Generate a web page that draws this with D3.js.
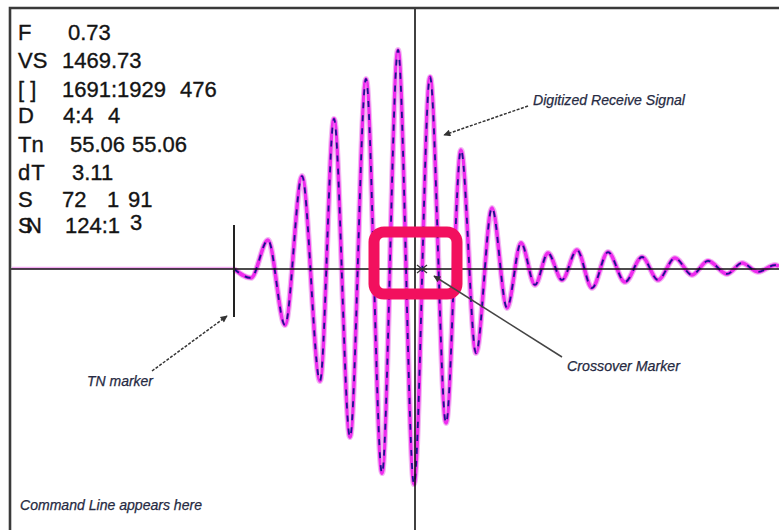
<!DOCTYPE html>
<html>
<head>
<meta charset="utf-8">
<script src="https://cdn.jsdelivr.net/npm/d3@7/dist/d3.min.js"></script>
<style>
  html, body { margin: 0; padding: 0; background: #fff; }
  svg { display: block; }
  .readout { font-family: "Liberation Sans", Arial, sans-serif; font-size: 22px; fill: #141414; stroke: #141414; stroke-width: 0.35px; }
  .note { font-family: "Liberation Sans", Arial, sans-serif; font-size: 14px; font-style: italic; fill: #262a42; stroke: #262a42; stroke-width: 0.25px; }
</style>
</head>
<body>
<svg id="chart" width="779" height="530"></svg>
<script>
// Receive waveform: sample index vs. amplitude (% of full scale), read at turning points
const sampleIndex = [2, 224, 241, 258, 275, 292, 310, 324, 340, 356, 372, 388, 404, 420, 436, 451,
  466, 482, 497, 511, 525, 538, 552, 567, 582, 598, 615, 632, 648, 665, 682, 698, 717, 732, 748, 765, 769];
const amplitude = [0, 0, -3.4, 11.1, -21.5, 35.6, -42.9, 57.5, -64.4, 72.8, -78.2, 83.9, -82.4, 73.6, -59.0, 45.6,
  -32.2, 23.4, -14.9, 10.0, -6.1, 6.1, -4.2, 7.3, -7.3, 6.5, -5.0, 4.6, -4.2, 4.2, -2.3, 3.1, -1.9, 2.3, -1.1, 1.5, 1.1];

// Markers (sample index)
const tnSample = 224;
const cursorSample = 405;
const crossoverSample = 412;

// Readout panel
const readoutLabels = ["F", "VS", "[ ]", "D", "Tn", "dT", "S", "SN"];
const readoutValues = [
  ["0.73"],
  ["1469.73"],
  ["1691:1929", "476"],
  ["4:4", "4"],
  ["55.06", "55.06"],
  ["3.11"],
  ["72", "1", "91"],
  ["124:1", "3"]
];

// Callout texts
const calloutTexts = ["Digitized Receive Signal", "Crossover Marker", "TN marker", "Command Line appears here"];

const svg = d3.select("#chart");
const W = 779, H = 530;
const frameLeft = 10, frameTop = 8;

const x = d3.scaleLinear().domain([0, 769]).range([frameLeft, W]);
const y = d3.scaleLinear().domain([-100, 100]).range([H, frameTop]);

const pts = sampleIndex.map((s, i) => [s, amplitude[i]]);
const preTrigger = pts.filter(d => d[0] <= tnSample);
const signal = pts.filter(d => d[0] >= tnSample);
const line = d3.line().x(d => x(d[0])).y(d => y(d[1])).curve(d3.curveMonotoneX);

// Arrowhead
const defs = svg.append("defs");
defs.append("marker")
  .attr("id", "arrow").attr("viewBox", "0 0 10 10")
  .attr("refX", 9).attr("refY", 5)
  .attr("markerWidth", 9).attr("markerHeight", 7)
  .attr("markerUnits", "userSpaceOnUse")
  .attr("orient", "auto")
  .append("path").attr("d", "M0,0 L10,5 L0,10 Z").attr("fill", "#333");

// Pre-trigger trace: faint
svg.append("path").datum(preTrigger).attr("d", line)
  .attr("fill", "none").attr("stroke", "#ee7aee").attr("stroke-width", 2.6)
  .attr("stroke-opacity", 0.6).attr("transform", "translate(0,-1)");

// Received signal: pale halo, magenta trace, dashed navy trace
const wave = svg.append("g");
wave.append("path").datum(signal).attr("d", line)
  .attr("fill", "none").attr("stroke", "#f2b8f2").attr("stroke-width", 6);
wave.append("path").datum(signal).attr("d", line)
  .attr("fill", "none").attr("stroke", "#ee2cee").attr("stroke-width", 3.6);
wave.append("path").datum(signal).attr("d", line)
  .attr("fill", "none").attr("stroke", "#1c128e").attr("stroke-width", 1.8)
  .attr("stroke-dasharray", "6 7");

// Zero line and cursor line
svg.append("line")
  .attr("x1", frameLeft).attr("x2", W).attr("y1", y(0)).attr("y2", y(0))
  .attr("stroke", "#111").attr("stroke-width", 1.6);
svg.append("line")
  .attr("x1", x(cursorSample)).attr("x2", x(cursorSample)).attr("y1", frameTop).attr("y2", H)
  .attr("stroke", "#111").attr("stroke-width", 1.6);

// TN marker
svg.append("line")
  .attr("x1", x(tnSample)).attr("x2", x(tnSample))
  .attr("y1", y(0) - 44).attr("y2", y(0) + 48)
  .attr("stroke", "#222").attr("stroke-width", 2);

// Crossover marker (asterisk)
const cx = x(crossoverSample), cy = y(0);
const star = svg.append("g").attr("stroke", "#333").attr("stroke-width", 1.2);
star.append("line").attr("x1", cx - 5).attr("x2", cx + 5).attr("y1", cy - 4).attr("y2", cy + 4);
star.append("line").attr("x1", cx - 5).attr("x2", cx + 5).attr("y1", cy + 4).attr("y2", cy - 4);
star.append("line").attr("x1", cx - 5).attr("x2", cx + 5).attr("y1", cy).attr("y2", cy);

// Frame (top and left edges)
svg.append("path")
  .attr("d", `M${frameLeft},${H} L${frameLeft},${frameTop} L${W},${frameTop}`)
  .attr("fill", "none").attr("stroke", "#3a3a3a").attr("stroke-width", 2.6);

// Highlight box around crossover
svg.append("rect")
  .attr("x", x(crossoverSample) - 48).attr("y", y(0) - 37)
  .attr("width", 83).attr("height", 62)
  .attr("rx", 10).attr("ry", 10)
  .attr("fill", "none").attr("stroke", "#f2105e").attr("stroke-width", 11);

// Readout text
const tokenX = [[68], [62], [62, 180], [63, 108], [70, 132], [72], [62, 107, 128], [65, 130]];
const baseY = [40, 68, 96.5, 123, 152, 180, 207, 233];
const labelSpacing = { "dT": "1px", "SN": "-6.7px" };
const rd = svg.append("g").attr("class", "readout");
readoutLabels.forEach((lab, i) => {
  rd.append("text").attr("x", 18).attr("y", baseY[i])
    .style("letter-spacing", labelSpacing[lab] || null)
    .text(lab);
  readoutValues[i].forEach((v, j) => {
    const raised = (i === 7 && j === 1) ? -3 : 0;
    rd.append("text").attr("x", tokenX[i][j]).attr("y", baseY[i] + raised).text(v);
  });
});

// Callouts
const notes = svg.append("g").attr("class", "note");
notes.append("text").attr("x", 533).attr("y", 105).attr("textLength", 152).attr("lengthAdjust", "spacingAndGlyphs").text(calloutTexts[0]);
notes.append("text").attr("x", 567).attr("y", 371).attr("textLength", 113).attr("lengthAdjust", "spacingAndGlyphs").text(calloutTexts[1]);
notes.append("text").attr("x", 87).attr("y", 386).attr("textLength", 66).attr("lengthAdjust", "spacingAndGlyphs").text(calloutTexts[2]);
notes.append("text").attr("x", 20).attr("y", 510).attr("textLength", 182).attr("lengthAdjust", "spacingAndGlyphs").text(calloutTexts[3]);

const arrows = svg.append("g").attr("stroke", "#333").attr("stroke-width", 1.5).attr("fill", "none");
arrows.append("line").attr("x1", 528).attr("y1", 106).attr("x2", 444).attr("y2", 135)
  .attr("stroke-dasharray", "3 1.5").attr("marker-end", "url(#arrow)");
arrows.append("line").attr("x1", 562).attr("y1", 357).attr("x2", 434).attr("y2", 276)
  .attr("stroke", "#444").attr("marker-end", "url(#arrow)");
arrows.append("line").attr("x1", 152).attr("y1", 371).attr("x2", 227).attr("y2", 316)
  .attr("stroke-dasharray", "3 1.5").attr("marker-end", "url(#arrow)");
</script>
</body>
</html>
